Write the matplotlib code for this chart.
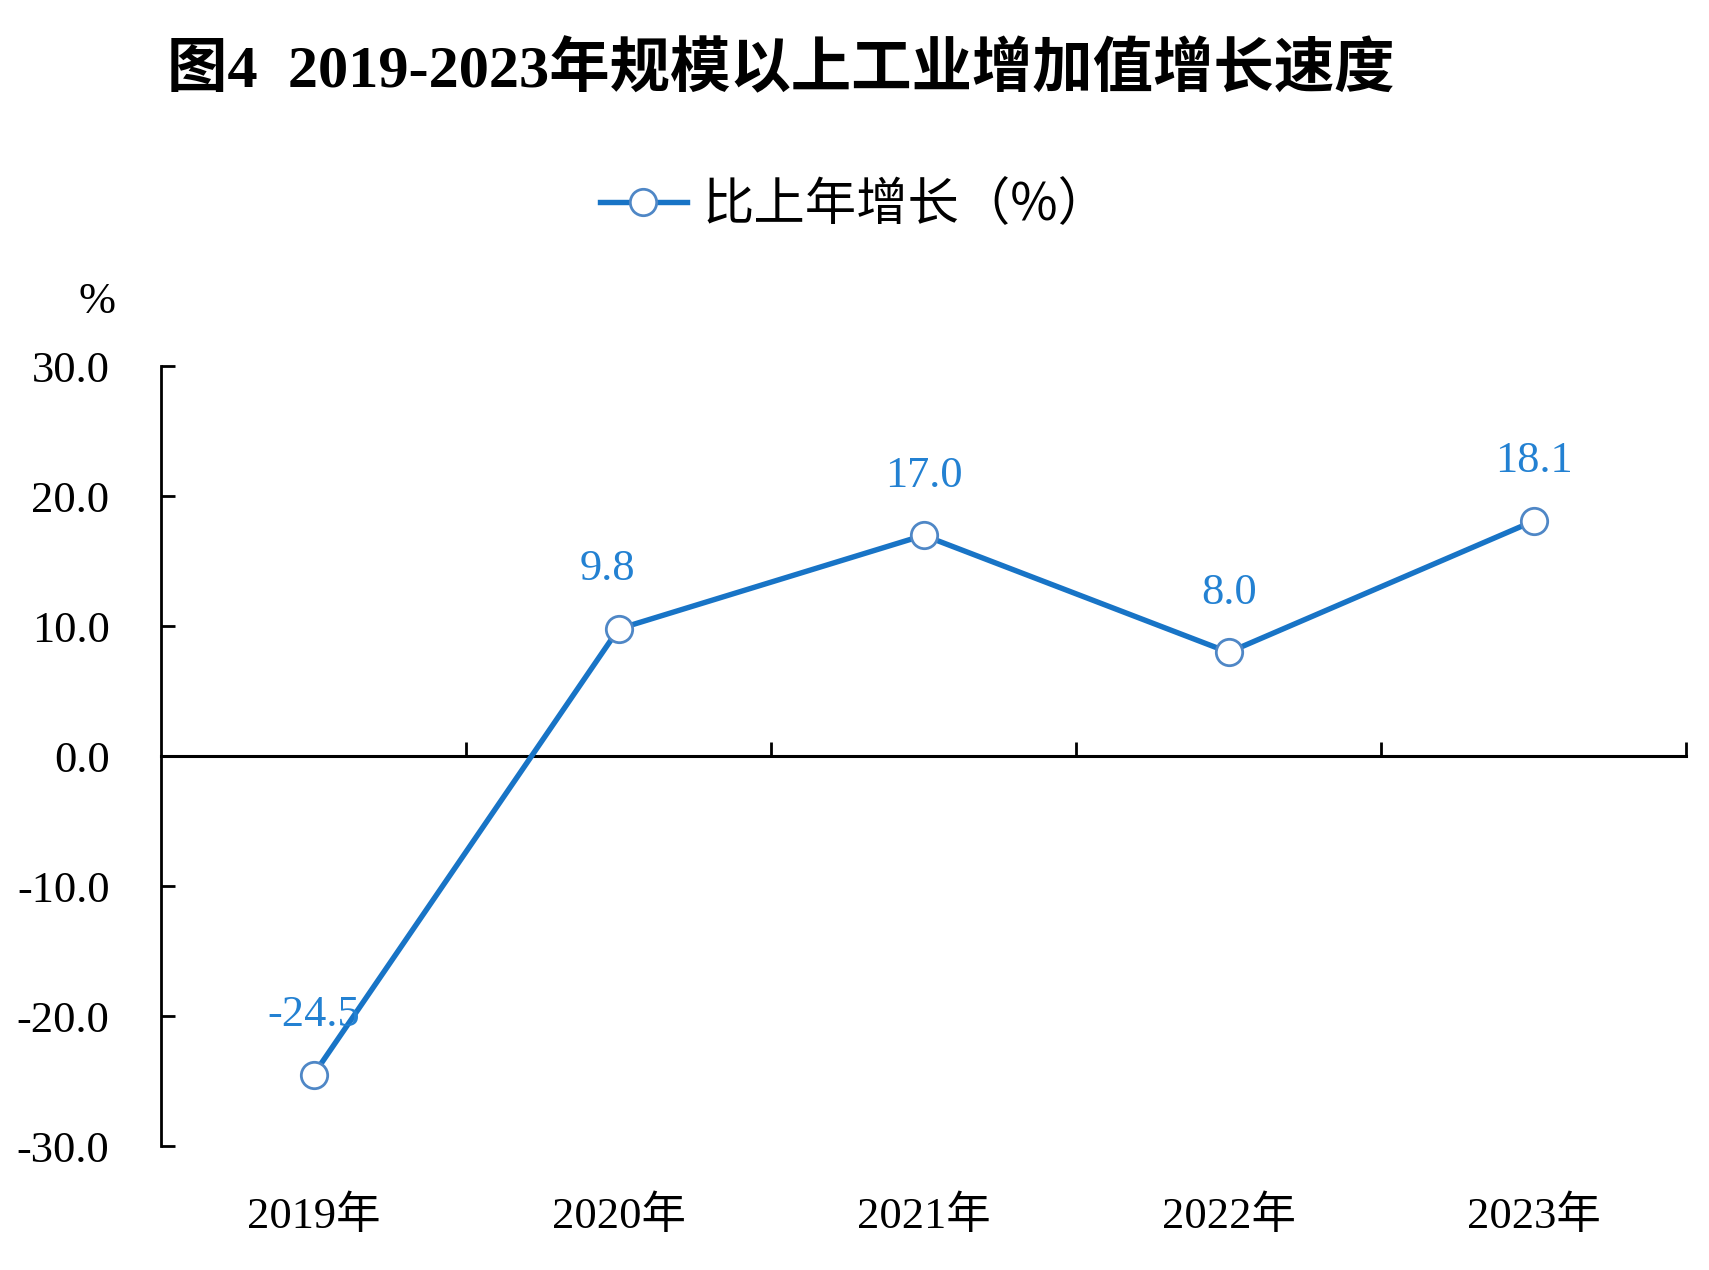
import numpy as np
import matplotlib
matplotlib.use('Agg')
import matplotlib.pyplot as plt
from matplotlib.lines import Line2D

# data
years = ['2019年', '2020年', '2021年', '2022年', '2023年']
growth = [-24.5, 9.8, 17.0, 8.0, 18.1]
y_ticks = [-30, -20, -10, 0, 10, 20, 30]

title = '图4  2019-2023年规模以上工业增加值增长速度'
legend_label = '比上年增长（%）'

line_color = '#1874C6'
marker_edge = '#4F87C6'
label_color = '#2381D2'
num_font = ['Liberation Serif', 'Noto Sans CJK SC']

plt.rcParams['font.family'] = ['Liberation Serif', 'Noto Sans CJK SC', 'DejaVu Sans']

fig = plt.figure(figsize=(17.09, 12.70), dpi=100)
ax = fig.add_axes([0.0942, 0.0975, 0.8925, 0.6140])

x = np.arange(len(years))
ax.plot(x, growth, color=line_color, lw=3.9, marker='o', markersize=19,
        markerfacecolor='white', markeredgecolor=marker_edge, markeredgewidth=2,
        zorder=3)

for xi, v in zip(x, growth):
    dx = -8 if xi == 1 else 0
    ax.annotate('%.1f' % v, (xi, v), xytext=(dx, 43), textcoords='offset points',
                ha='center', va='center', fontsize=32, color=label_color,
                family=num_font, zorder=4)

ax.set_xlim(-0.5, len(years) - 0.5)
ax.set_ylim(-30, 30)

# y axis
ax.set_yticks(y_ticks)
ax.set_yticklabels(['%.1f' % t for t in y_ticks], fontsize=32)
ax.tick_params(axis='y', direction='in', length=10, width=2, pad=37, colors='black')
ax.spines['left'].set_linewidth(2)

# x axis drawn through zero, with boundary ticks pointing up
ax.spines['bottom'].set_position(('data', 0))
ax.spines['bottom'].set_linewidth(2.2)
ax.spines['top'].set_visible(False)
ax.spines['right'].set_visible(False)
ax.set_xticks(x + 0.5)
ax.set_xticklabels([])
ax.tick_params(axis='x', direction='in', length=10, width=2)

# category labels at the bottom
for xi, yr in zip(x, years):
    ax.text(xi, -0.0895, yr, transform=ax.get_xaxis_transform(), ha='center',
            va='center', fontsize=32, family=num_font)

ax.text(-0.042, 1.082, '%', transform=ax.transAxes, ha='center', va='center',
        fontsize=32)

fig.text(0.457, 0.944, title, ha='center', va='center', fontsize=43.5,
         fontweight='bold')

handle = Line2D([], [], color=line_color, lw=3.9, marker='o', markersize=19,
                markerfacecolor='white', markeredgecolor=marker_edge,
                markeredgewidth=2)
fig.legend([handle], [legend_label], loc='center', bbox_to_anchor=(0.5, 0.8386),
           frameon=False, handlelength=1.7, handletextpad=0.3,
           prop={'family': ['Noto Sans CJK SC', 'DejaVu Sans'], 'size': 37})

fig.savefig('out.png', dpi=100, facecolor='white')
